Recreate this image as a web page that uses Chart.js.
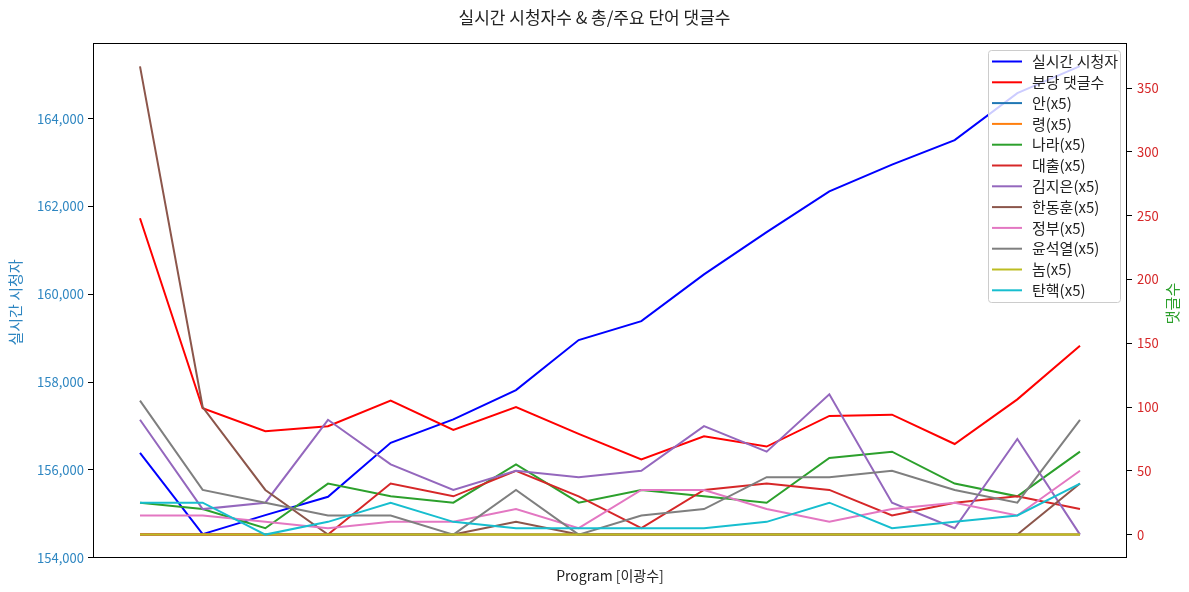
<!DOCTYPE html>
<html>
<head>
<meta charset="utf-8">
<script src="https://cdn.jsdelivr.net/npm/chart.js@4/dist/chart.umd.min.js"></script>
<style>
  html, body { margin: 0; padding: 0; background: #fff; }
  #wrap { width: 1189px; height: 592px; position: relative; }
</style>
</head>
<body>
<div id="wrap"><canvas id="myChart" width="1189" height="592"></canvas></div>
<script>
// x positions (program segments, no tick labels shown)
var steps = [0, 1, 2, 3, 4, 5, 6, 7, 8, 9, 10, 11, 12, 13, 14, 15];

// left axis
var viewers = [156387, 154535, 154968, 155385, 156615, 157148, 157815, 158955,
               159387, 160451, 161415, 162344, 162950, 163510, 164580, 165196];

// right axis
var perMinute = [248, 99, 81, 85, 105, 82, 100, 79, 59, 77, 69, 93, 94, 71, 106, 148];

// keyword counts, already multiplied by 5
var wordAn      = [0, 0, 0, 0, 0, 0, 0, 0, 0, 0, 0, 0, 0, 0, 0, 0];
var wordRyeong  = [0, 0, 0, 0, 0, 0, 0, 0, 0, 0, 0, 0, 0, 0, 0, 0];
var wordNara    = [25, 20, 5, 40, 30, 25, 55, 25, 35, 30, 25, 60, 65, 40, 30, 65];
var wordLoan    = [0, 0, 0, 0, 40, 30, 50, 30, 5, 35, 40, 35, 15, 25, 30, 20];
var wordKimJE   = [90, 20, 25, 90, 55, 35, 50, 45, 50, 85, 65, 110, 25, 5, 75, 0];
var wordHanDH   = [367, 100, 35, 0, 0, 0, 10, 0, 0, 0, 0, 0, 0, 0, 0, 40];
var wordGov     = [15, 15, 10, 5, 10, 10, 20, 5, 35, 35, 20, 10, 20, 25, 15, 50];
var wordYoon    = [105, 35, 25, 15, 15, 0, 35, 0, 15, 20, 45, 45, 50, 35, 25, 90];
var wordNom     = [0, 0, 0, 0, 0, 0, 0, 0, 0, 0, 0, 0, 0, 0, 0, 0];
var wordImpeach = [25, 25, 0, 10, 25, 10, 5, 5, 5, 5, 10, 25, 5, 10, 15, 40];

var leftTicks = [154000, 156000, 158000, 160000, 162000, 164000];
var rightTicks = [0, 50, 100, 150, 200, 250, 300, 350];

var FONT = "'Noto Sans CJK KR', 'Noto Sans', sans-serif";

function pts(arr) {
    return arr.map(function (v, i) { return { x: steps[i], y: v }; });
}

var series = [
    { label: "실시간 시청자", data: viewers, color: "#0000ff", axis: "y" },
    { label: "분당 댓글수", data: perMinute, color: "#ff0000", axis: "y1" },
    { label: "안(x5)", data: wordAn, color: "#1f77b4", axis: "y1" },
    { label: "령(x5)", data: wordRyeong, color: "#ff7f0e", axis: "y1" },
    { label: "나라(x5)", data: wordNara, color: "#2ca02c", axis: "y1" },
    { label: "대출(x5)", data: wordLoan, color: "#d62728", axis: "y1" },
    { label: "김지은(x5)", data: wordKimJE, color: "#9467bd", axis: "y1" },
    { label: "한동훈(x5)", data: wordHanDH, color: "#8c564b", axis: "y1" },
    { label: "정부(x5)", data: wordGov, color: "#e377c2", axis: "y1" },
    { label: "윤석열(x5)", data: wordYoon, color: "#7f7f7f", axis: "y1" },
    { label: "놈(x5)", data: wordNom, color: "#bcbd22", axis: "y1" },
    { label: "탄핵(x5)", data: wordImpeach, color: "#17becf", axis: "y1" }
];

var datasets = series.map(function (s, i) {
    return {
        label: s.label,
        data: pts(s.data),
        borderColor: s.color,
        backgroundColor: s.color,
        borderWidth: 2,
        pointRadius: 0,
        tension: 0,
        fill: false,
        yAxisID: s.axis,
        order: series.length - i
    };
});

function vtext(c, txt, x, y, color) {
    c.save();
    c.translate(x, y);
    c.rotate(-Math.PI / 2);
    c.fillStyle = color;
    c.fillText(txt, 0, 0);
    c.restore();
}

// frame, titles and the in-plot legend
var extras = {
    id: 'extras',
    afterDraw: function (chart) {
        var c = chart.ctx, a = chart.chartArea;
        var midY = (a.top + a.bottom) / 2;
        c.save();
        c.strokeStyle = '#000';
        c.lineWidth = 1;
        c.strokeRect(a.left + 0.5, a.top + 0.5, a.right - a.left - 1, a.bottom - a.top - 1);

        c.textAlign = 'center';
        c.textBaseline = 'middle';
        c.fillStyle = '#222';
        c.font = "17px " + FONT;
        c.fillText("실시간 시청자수 & 총/주요 단어 댓글수", chart.width / 2, 18);

        c.font = "14px " + FONT;
        c.fillText("Program [이광수]", (a.left + a.right) / 2, 576);

        c.font = "15px " + FONT;
        vtext(c, "실시간 시청자", 15, midY + 2, '#2e86c1');
        vtext(c, "댓글수", 1172, midY + 3, '#2ca02c');

        // legend box
        var bx = 988, by = 50, bw = 132, bh = 252;
        c.fillStyle = 'rgba(255,255,255,0.8)';
        c.strokeStyle = '#cccccc';
        c.beginPath();
        c.roundRect(bx + 0.5, by + 0.5, bw, bh, 3);
        c.fill();
        c.stroke();
        c.font = "15px " + FONT;
        c.textAlign = 'left';
        chart.data.datasets.forEach(function (ds, i) {
            var y = 61.5 + i * 20.8;
            c.strokeStyle = ds.borderColor;
            c.lineWidth = 2;
            c.beginPath();
            c.moveTo(992, y);
            c.lineTo(1022, y);
            c.stroke();
            c.fillStyle = '#222';
            c.fillText(ds.label, 1032, y);
        });
        c.restore();
    }
};

var ctx = document.getElementById('myChart').getContext('2d');
var myChart = new Chart(ctx, {
    type: 'line',
    data: { datasets: datasets },
    options: {
        responsive: false,
        animation: false,
        layout: { padding: { top: 43, left: 0, right: 0, bottom: 0 } },
        plugins: {
            legend: { display: false },
            title: { display: false },
            tooltip: { enabled: false }
        },
        scales: {
            x: {
                type: 'linear',
                min: -0.75,
                max: 15.75,
                grid: { display: false, drawTicks: false },
                border: { display: false },
                ticks: { display: false },
                afterFit: function (s) { s.height = 34; }
            },
            y: {
                type: 'linear',
                position: 'left',
                min: 153991,
                max: 165722,
                grid: { drawOnChartArea: false, tickLength: 5, color: '#000' },
                border: { display: false },
                ticks: {
                    color: '#2e86c1',
                    padding: 4,
                    font: { family: FONT, size: 13 },
                    callback: function (v) { return v.toLocaleString('en-US'); }
                },
                afterBuildTicks: function (s) {
                    s.ticks = leftTicks.map(function (v) { return { value: v }; });
                },
                afterFit: function (s) { s.width = 93; }
            },
            y1: {
                type: 'linear',
                position: 'right',
                min: -18.35,
                max: 385.35,
                grid: { drawOnChartArea: false, tickLength: 5, color: '#000' },
                border: { display: false },
                ticks: {
                    color: '#d62728',
                    padding: 5,
                    font: { family: FONT, size: 13 }
                },
                afterBuildTicks: function (s) {
                    s.ticks = rightTicks.map(function (v) { return { value: v }; });
                },
                afterFit: function (s) { s.width = 62; }
            }
        }
    },
    plugins: [extras]
});
</script>
</body>
</html>
